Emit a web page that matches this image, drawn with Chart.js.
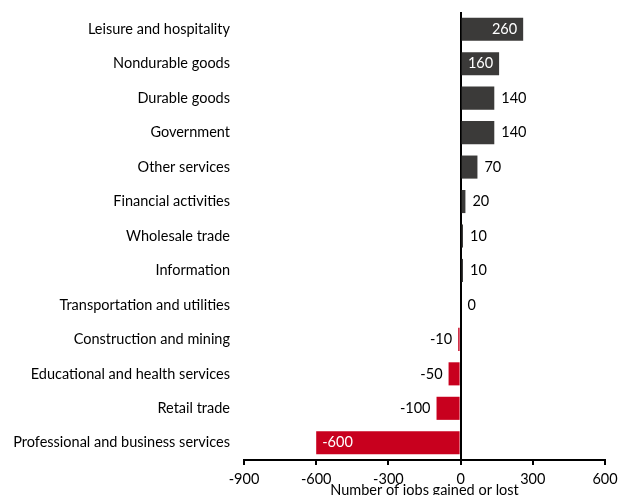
<!DOCTYPE html>
<html>
<head>
<meta charset="utf-8">
<script src="https://cdn.jsdelivr.net/npm/chart.js@4.4.1/dist/chart.umd.min.js"></script>
<style>
html,body{margin:0;padding:0;background:#fff;}
#wrap{width:618px;height:495px;position:relative;}
</style>
</head>
<body>
<div id="wrap"><canvas id="c" width="618" height="495"></canvas></div>
<script>
const categories = [
  "Leisure and hospitality",
  "Nondurable goods",
  "Durable goods",
  "Government",
  "Other services",
  "Financial activities",
  "Wholesale trade",
  "Information",
  "Transportation and utilities",
  "Construction and mining",
  "Educational and health services",
  "Retail trade",
  "Professional and business services"
];
const jobsChange = [260, 160, 140, 140, 70, 20, 10, 10, 0, -10, -50, -100, -600];
const xTicks = [-900, -600, -300, 0, 300, 600];
const axisTitle = "Number of jobs gained or lost";

const POS_COLOR = "#3b3a39";
const NEG_COLOR = "#c8001e";
const FONT = "Lato, 'Open Sans', sans-serif";

const labelPlugin = {
  id: 'valueLabels',
  afterDatasetsDraw(chart) {
    const ctx = chart.ctx;
    const meta = chart.getDatasetMeta(0);
    ctx.save();
    ctx.font = "14.5px " + FONT;
    ctx.textBaseline = 'middle';
    meta.data.forEach((bar, i) => {
      const v = jobsChange[i];
      const txt = String(v);
      const inside = Math.abs(v) >= 150;
      const xEnd = bar.x;
      if (inside) {
        ctx.fillStyle = '#ffffff';
        if (v >= 0) { ctx.textAlign = 'right'; ctx.fillText(txt, xEnd - 6, bar.y); }
        else { ctx.textAlign = 'left'; ctx.fillText(txt, xEnd + 6, bar.y); }
      } else {
        ctx.fillStyle = '#000000';
        if (v >= 0) { ctx.textAlign = 'left'; ctx.fillText(txt, xEnd + 7, bar.y); }
        else { ctx.textAlign = 'right'; ctx.fillText(txt, xEnd - 6, bar.y); }
      }
    });
    ctx.restore();
  }
};

new Chart(document.getElementById('c'), {
  type: 'bar',
  data: {
    labels: categories,
    datasets: [{
      data: jobsChange,
      backgroundColor: jobsChange.map(v => v < 0 ? NEG_COLOR : POS_COLOR),
      borderWidth: 0,
      barPercentage: 0.67,
      categoryPercentage: 1.0
    }]
  },
  options: {
    indexAxis: 'y',
    responsive: false,
    animation: false,
    devicePixelRatio: 1,
    layout: { padding: { top: 12, right: 13, left: 0, bottom: 0 } },
    plugins: { legend: { display: false }, tooltip: { enabled: false } },
    scales: {
      x: {
        min: -900, max: 600,
        afterBuildTicks: (s) => { s.ticks = xTicks.map(v => ({ value: v })); },
        afterFit: (s) => { s.height = 35; s.paddingRight = 0; s.paddingLeft = 0; },
        border: { display: true, color: '#000', width: 2 },
        grid: {
          drawOnChartArea: true,
          drawTicks: true,
          tickLength: 5,
          tickWidth: 2,
          tickColor: '#000',
          color: (c) => (c.tick && c.tick.value === 0) ? '#000' : 'rgba(0,0,0,0)',
          lineWidth: 2
        },
        ticks: { color: '#000', font: { family: FONT, size: 14.5 }, padding: 6, maxRotation: 0 },
        title: { display: true, text: axisTitle, color: '#000', font: { family: FONT, size: 14.5 }, padding: { top: 0, bottom: -4 } }
      },
      y: {
        afterFit: (s) => { s.width = 244; s.paddingTop = 0; s.paddingBottom = 0; },
        border: { display: false },
        grid: { display: false, drawTicks: false },
        ticks: { color: '#000', font: { family: FONT, size: 14.5 }, padding: 14, autoSkip: false }
      }
    }
  },
  plugins: [labelPlugin]
});
</script>
</body>
</html>
